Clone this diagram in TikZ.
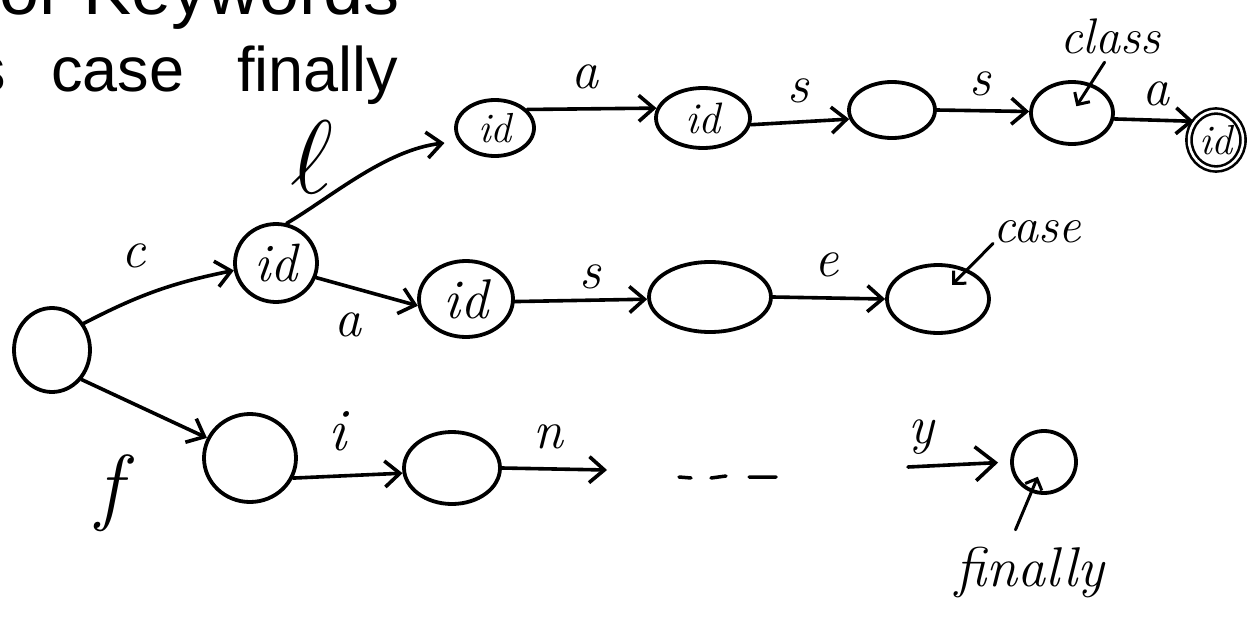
\documentclass[tikz,border=0pt]{standalone}
\usepackage{fontspec}
\newfontfamily\titlefont{Liberation Sans}
\usetikzlibrary{shapes.geometric,arrows.meta}
\newcommand{\myfs}[1]{\fontsize{#1}{#1}\selectfont}
\begin{document}
\begin{tikzpicture}[x=1pt,y=-1pt,
  st/.style={draw, ellipse, line width=3.8pt, inner sep=0pt, font=\myfs{44}\itshape},
  edge/.style={line width=3.6pt, line cap=round, -{Straight Barb[length=15pt,width=26pt]}},
  ptr/.style={line width=3pt, line cap=round, -{Straight Barb[length=9pt,width=18pt]}},
  lab/.style={inner sep=0pt, font=\myfs{54}\itshape},
  ttl/.style={inner sep=0pt, font=\titlefont\myfs{63}},
]
\useasboundingbox (0,0) rectangle (1256,629);
\clip (0,0) rectangle (1256,629);
\fill[white] (0,0) rectangle (1256,629);

% slide title (cut off)
\node[ttl, font=\titlefont\myfs{72}, anchor=base east] (t1) at (400,14) {for Keywords};
\node[ttl, anchor=base east] (t2) at (6,91) {class};
\node[ttl, anchor=base west] (t3) at (51,91) {case};
\node[ttl, anchor=base west] (t4) at (237,91) {finally};

% states
\node[st, minimum width=76pt, minimum height=84pt] (s0) at (52,350) {};
\node[st, minimum width=82pt, minimum height=78pt, font=\myfs{54}\itshape] (idc) at (276,263) {id};
\node[st, minimum width=94pt, minimum height=76pt, font=\myfs{56}\itshape] (idca) at (466,299) {id};
\node[st, minimum width=122pt, minimum height=70pt] (cas) at (710,297) {};
\node[st, minimum width=102pt, minimum height=68pt] (ncase) at (938,299) {};
\node[st, minimum width=78pt, minimum height=56pt, font=\myfs{42}\itshape] (idcl) at (495,128) {id};
\node[st, minimum width=94pt, minimum height=60pt, font=\myfs{44}\itshape] (idcla) at (703,118) {id};
\node[st, minimum width=86pt, minimum height=56pt] (clas) at (892,110) {};
\node[st, minimum width=82pt, minimum height=62pt] (class) at (1072,113) {};
\node[st, minimum width=54pt, minimum height=58pt, line width=2.6pt, double, double distance=2.5pt, font=\myfs{42}\itshape] (classa) at (1216,140) {id};
\node[st, minimum width=92pt, minimum height=88pt] (nf) at (250,458) {};
\node[st, minimum width=96pt, minimum height=72pt] (nfi) at (452,468) {};
\node[st, minimum width=64pt, minimum height=62pt] (nfin) at (1044,462) {};

% transitions
\draw[edge] (s0.40) to[bend left=8] (idc.190);
\draw[edge] (s0.-45) -- (nf.155);
\draw[edge, shorten >=14pt] (idc.75) .. controls (330,198) and (385,150) .. (idcl.200);
\draw[edge] (idc.-20) -- (idca.188);
\draw[edge] (idcl.30) -- (idcla.168);
\draw[edge] (idcla.-8) -- (clas.192);
\draw[edge] (clas.0) -- (class.178);
\draw[edge] (class.-8) -- (classa.140);
\draw[edge] (idca.-3) -- (cas.182);
\draw[edge] (cas.0) -- (ncase.180);
\draw[edge] (nf.-25) -- (nfi.186);
\coordinate (nend) at (607,470);
\draw[edge] (nfi.0) -- (nend);
\coordinate (ystart) at (908,467);
\draw[edge, -{Straight Barb[length=20pt,width=34pt]}, shorten >=12pt] (ystart) -- (nfin.180);

% edge labels
\node[lab] (lc) at (134,256) {c};
\node[lab] (la1) at (348,325) {a};
\node[lab] (ll) at (312,157) {\scalebox{4.2}{$\ell$}};
\node[lab] (la2) at (585,77) {a};
\node[lab] (ls1) at (798,91) {s};
\node[lab] (ls2) at (980,84) {s};
\node[lab] (la3) at (1156,94) {a};
\node[lab] (ls3) at (590,277) {s};
\node[lab] (le) at (827,265) {e};
\node[lab, font=\myfs{85}\itshape] (lf) at (109,493) {f};
\node[lab, font=\myfs{60}\itshape] (li) at (337,431) {i};
\node[lab] (ln) at (548,437) {n};
\node[lab] (ly) at (921,437) {y};

% dots
\draw[line width=3.5pt, line cap=round] (679,477) -- (691,478) (711,478) -- (726,476) (749,477) -- (776,477);

% keyword annotations
\node[lab, font=\myfs{50}\itshape] (tclass) at (1110,36) {class};
\node[lab, font=\myfs{50}\itshape] (tcase) at (1037,232) {case};
\node[lab, font=\myfs{56}\itshape] (tfin) at (1030,572) {finally};
\draw[ptr, shorten <=10pt, shorten >=8pt] (tclass.south) -- (class.center);
\draw[ptr, shorten >=20pt] (tcase.south west) -- (ncase.center);
\draw[ptr, shorten <=18pt, shorten >=16pt] (tfin.130) -- (nfin.center);
\end{tikzpicture}
\end{document}
